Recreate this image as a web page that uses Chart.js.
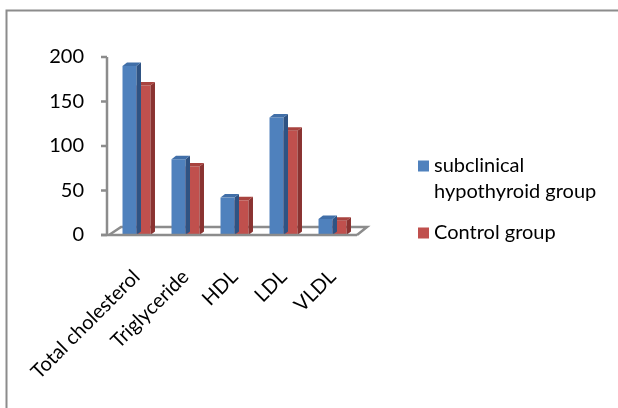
<!DOCTYPE html>
<html>
<head>
<meta charset="utf-8">
<script src="https://cdn.jsdelivr.net/npm/chart.js@4/dist/chart.umd.min.js"></script>
<style>
  html, body { margin: 0; padding: 0; background: #fff; }
  #wrap { width: 618px; height: 408px; position: relative; }
</style>
</head>
<body>
<div id="wrap"><canvas id="c" width="618" height="408"></canvas></div>
<script>
// Mean serum lipid levels per group
const categories = ['Total cholesterol', 'Triglyceride', 'HDL', 'LDL', 'VLDL'];
const subclinicalValues = [190, 85, 42, 132, 18];
const controlValues = [168, 77, 39, 117, 16];
const seriesNames = ['subclinical hypothyroid group', 'Control group'];
const yTicks = [0, 50, 100, 150, 200];

const FONT = 'Lato, "Open Sans", sans-serif';
const GREY = '#8c8c8c';
const DEPTH_X = 4.5, DEPTH_Y = 3.5;
const faces = [
  { front: '#4F81BD', side: '#2F5383', top: '#416FA8' },
  { front: '#C0504D', side: '#8A3331', top: '#A8433F' }
];

// Side and top faces give each bar a shallow box look
const boxFaces = {
  id: 'boxFaces',
  afterDatasetDraw(chart, args) {
    const ctx = chart.ctx;
    const f = faces[args.index];
    args.meta.data.forEach(bar => {
      const { x, y, base, width } = bar.getProps(['x', 'y', 'base', 'width'], true);
      const l = x - width / 2, r = x + width / 2;
      ctx.save();
      ctx.fillStyle = f.side;
      ctx.beginPath();
      ctx.moveTo(r, y);
      ctx.lineTo(r + DEPTH_X, y - DEPTH_Y);
      ctx.lineTo(r + DEPTH_X, base - DEPTH_Y);
      ctx.lineTo(r, base);
      ctx.closePath();
      ctx.fill();
      ctx.fillStyle = f.top;
      ctx.beginPath();
      ctx.moveTo(l, y);
      ctx.lineTo(l + DEPTH_X, y - DEPTH_Y);
      ctx.lineTo(r + DEPTH_X, y - DEPTH_Y);
      ctx.lineTo(r, y);
      ctx.closePath();
      ctx.fill();
      ctx.restore();
    });
  }
};

// Outer frame, floor, value axis and legend
const decorations = {
  id: 'decorations',
  beforeDraw(chart) {
    const ctx = chart.ctx;
    ctx.save();
    ctx.strokeStyle = GREY;
    ctx.lineWidth = 2;
    ctx.beginPath();
    ctx.moveTo(6.5, chart.height + 5);
    ctx.lineTo(6.5, 10.5);
    ctx.lineTo(chart.width + 5, 10.5);
    ctx.stroke();
    ctx.restore();
  },
  beforeDatasetsDraw(chart) {
    const ctx = chart.ctx;
    const a = chart.chartArea;
    const y0 = chart.scales.y.getPixelForValue(0);
    ctx.save();
    ctx.strokeStyle = GREY;
    ctx.lineWidth = 2.5;
    ctx.beginPath();
    ctx.moveTo(a.left - 3, y0);
    ctx.lineTo(a.left + 9, y0 - 8);
    ctx.lineTo(a.right + 10, y0 - 8);
    ctx.lineTo(a.right, y0);
    ctx.stroke();
    ctx.restore();
  },
  afterDatasetsDraw(chart) {
    const ctx = chart.ctx;
    const a = chart.chartArea;
    const ys = chart.scales.y;
    const y0 = ys.getPixelForValue(0);
    const axisX = a.left - 5;
    ctx.save();
    ctx.strokeStyle = GREY;
    ctx.lineWidth = 2.5;
    ctx.beginPath();
    ctx.moveTo(axisX - 6, y0);
    ctx.lineTo(a.right, y0);
    ctx.stroke();
    ctx.beginPath();
    ctx.moveTo(axisX, ys.getPixelForValue(ys.max));
    ctx.lineTo(axisX, y0);
    ys.ticks.forEach(t => {
      const py = ys.getPixelForValue(t.value);
      ctx.moveTo(axisX - 6, py);
      ctx.lineTo(axisX, py);
    });
    ctx.stroke();
    ctx.restore();
  },
  afterDraw(chart) {
    const ctx = chart.ctx;
    const lx = 418, maxW = 170, lineH = 26;
    let cy = 166;
    ctx.save();
    ctx.font = '20px ' + FONT;
    ctx.textBaseline = 'middle';
    chart.data.datasets.forEach((ds, i) => {
      const words = ds.label.split(' ');
      const lines = [];
      let cur = '';
      words.forEach(w => {
        const test = cur ? cur + ' ' + w : w;
        if (cur && ctx.measureText(test).width > maxW) { lines.push(cur); cur = w; }
        else cur = test;
      });
      lines.push(cur);
      ctx.fillStyle = ds.backgroundColor;
      ctx.fillRect(lx, cy - 5.5, 11, 11);
      ctx.fillStyle = '#000';
      lines.forEach((ln, k) => ctx.fillText(ln, lx + 16, cy + k * lineH));
      cy += lines.length * lineH + 15;
    });
    ctx.restore();
  }
};

new Chart(document.getElementById('c'), {
  type: 'bar',
  data: {
    labels: categories,
    datasets: [
      { label: seriesNames[0], data: subclinicalValues, backgroundColor: faces[0].front },
      { label: seriesNames[1], data: controlValues, backgroundColor: faces[1].front }
    ]
  },
  options: {
    responsive: false,
    animation: false,
    devicePixelRatio: 1,
    layout: { padding: { left: 0, top: 57, right: 261, bottom: 0 } },
    datasets: { bar: { categoryPercentage: 0.571, barPercentage: 1, borderWidth: 0 } },
    plugins: { legend: { display: false }, tooltip: { enabled: false } },
    scales: {
      x: {
        grid: { display: false, drawTicks: false },
        border: { display: false },
        ticks: { color: '#000', font: { family: FONT, size: 20 }, minRotation: 45, maxRotation: 45, padding: 30, autoSkip: false },
        afterFit(s) { s.height = 173; s.paddingLeft = 0; s.paddingRight = 0; }
      },
      y: {
        min: 0, max: 200,
        grid: { display: false, drawTicks: false },
        border: { display: false },
        afterBuildTicks(s) { s.ticks = yTicks.map(v => ({ value: v })); },
        ticks: { color: '#000', font: { family: FONT, size: 20 }, padding: 28 },
        afterFit(s) { s.width = 112; }
      }
    }
  },
  plugins: [boxFaces, decorations]
});
</script>
</body>
</html>
